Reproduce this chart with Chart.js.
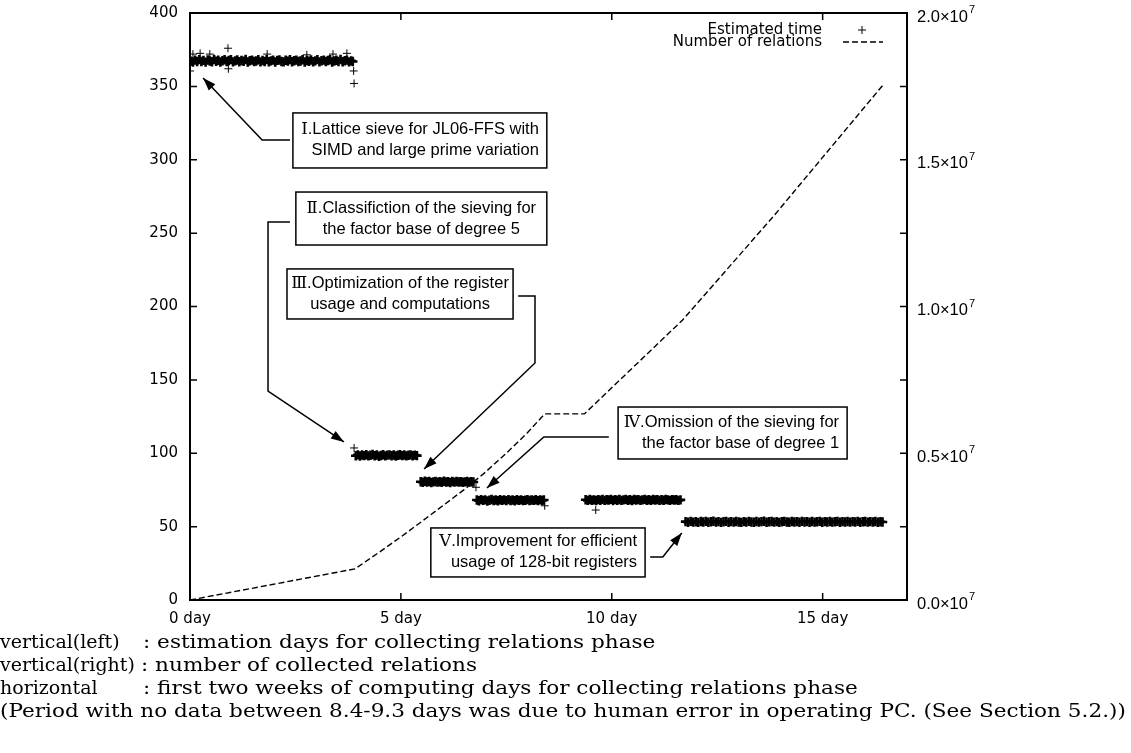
<!DOCTYPE html>
<html>
<head>
<meta charset="utf-8">
<script src="https://cdn.jsdelivr.net/npm/chart.js@4.4.1/dist/chart.umd.min.js"></script>
<style>
  body { margin: 0; background: #fff; }
  #wrap { position: relative; width: 1131px; height: 753px; }
  .row { position: absolute; left: 0; white-space: nowrap; font-family: "DejaVu Serif", serif; font-size: 19px; line-height: 23px; color: #000; }
  .lab { display: inline-block; width: 143px; }
  .txt { display: inline-block; transform: scaleX(1.135); transform-origin: left center; }
</style>
</head>
<body>
<div id="wrap">
  <canvas id="chart" width="1131" height="753"></canvas>
  <div class="row" style="top:630px"><span class="lab">vertical(left)</span><span class="txt">: estimation days for collecting relations phase</span></div>
  <div class="row" style="top:653px"><span>vertical(right)</span><span class="txt" style="margin-left:6px">: number of collected relations</span></div>
  <div class="row" style="top:676px"><span class="lab">horizontal</span><span class="txt">: first two weeks of computing days for collecting relations phase</span></div>
  <div class="row" style="top:699px"><span class="txt">(Period with no data between 8.4-9.3 days was due to human error in operating PC. (See Section 5.2.))</span></div>
</div>
<script>
// estimated time (days), one list per sieving phase
const phase1 = [
  [0.02,367.2],[0.07,366.6],[0.12,367.9],[0.17,366.9],[0.22,368.2],[0.27,367.0],[0.32,367.7],[0.37,366.5],[0.42,368.0],[0.47,367.3],
  [0.52,366.8],[0.57,368.3],[0.62,367.1],[0.67,367.8],[0.72,366.6],[0.77,367.5],[0.82,368.1],[0.87,366.9],[0.92,367.6],[0.97,368.2],
  [1.02,366.7],[1.07,367.4],[1.12,368.0],[1.17,366.8],[1.22,367.6],[1.27,367.1],[1.32,368.3],[1.37,366.6],[1.42,367.5],[1.47,367.9],
  [1.52,366.9],[1.57,367.3],[1.62,368.1],[1.67,366.7],[1.72,367.6],[1.77,367.0],[1.82,368.2],[1.87,366.8],[1.92,367.4],[1.97,367.9],
  [2.02,366.6],[2.07,367.7],[2.12,368.0],[2.17,367.0],[2.22,366.7],[2.27,367.8],[2.32,367.2],[2.37,368.2],[2.42,366.8],[2.47,367.5],
  [2.52,367.9],[2.57,366.9],[2.62,367.3],[2.67,368.1],[2.72,366.6],[2.77,367.6],[2.82,367.1],[2.87,368.0],[2.92,366.8],[2.97,367.4],
  [3.02,368.2],[3.07,366.7],[3.12,367.5],[3.17,367.9],[3.22,366.9],[3.27,367.6],[3.32,368.1],[3.37,366.6],[3.42,367.3],[3.47,367.8],
  [3.52,367.0],[3.57,368.3],[3.62,366.8],[3.67,367.5],[3.72,367.9],[3.77,366.7],[3.82,367.4],[3.86,367.0]
];
const phase2 = [
  [3.93,98.3],[3.98,98.9],[4.03,98.1],[4.08,98.8],[4.13,98.4],[4.18,99.0],[4.23,98.2],[4.28,98.6],[4.33,99.1],[4.38,98.3],
  [4.43,98.8],[4.48,98.0],[4.53,98.5],[4.58,99.0],[4.63,98.2],[4.68,98.7],[4.73,98.9],[4.78,98.3],[4.83,98.8],[4.88,98.1],
  [4.93,98.6],[4.98,99.0],[5.03,98.4],[5.08,98.8],[5.13,98.2],[5.18,98.6],[5.23,98.9],[5.28,98.3],[5.33,98.7],[5.38,98.4]
];
const phase3 = [
  [5.47,80.6],[5.52,80.2],[5.57,80.9],[5.62,80.4],[5.67,80.7],[5.72,80.1],[5.77,80.5],[5.82,80.8],[5.87,80.3],[5.92,80.6],
  [5.97,80.2],[6.02,80.9],[6.07,80.4],[6.12,80.6],[6.17,80.1],[6.22,80.7],[6.27,80.3],[6.32,80.8],[6.37,80.4],[6.42,80.6],
  [6.47,80.2],[6.52,80.5],[6.57,80.8],[6.62,80.3],[6.67,80.6],[6.72,80.4]
];
const phase4a = [
  [6.80,68.1],[6.85,67.6],[6.90,68.4],[6.95,67.9],[7.00,68.2],[7.05,67.5],[7.10,68.0],[7.15,68.5],[7.20,67.8],[7.25,68.1],
  [7.30,67.6],[7.35,68.3],[7.40,67.9],[7.45,68.2],[7.50,67.7],[7.55,68.4],[7.60,67.8],[7.65,68.1],[7.70,67.6],[7.75,68.3],
  [7.80,67.9],[7.85,68.2],[7.90,67.7],[7.95,68.0],[8.00,68.4],[8.05,67.8],[8.10,68.1],[8.15,67.9],[8.20,68.3],[8.25,67.7],
  [8.30,68.2],[8.35,67.9],[8.39,68.1]
];
const phase4b = [
  [9.38,68.3],[9.43,67.9],[9.48,68.5],[9.53,68.0],[9.58,68.2],[9.63,67.8],[9.68,68.4],[9.73,68.0],[9.78,68.6],[9.83,67.9],
  [9.88,68.3],[9.93,68.1],[9.98,68.6],[10.03,67.8],[10.08,68.4],[10.13,68.0],[10.18,68.5],[10.23,67.9],[10.28,68.2],[10.33,68.6],
  [10.38,68.0],[10.43,68.3],[10.48,67.8],[10.53,68.5],[10.58,68.1],[10.63,68.4],[10.68,67.9],[10.73,68.2],[10.78,68.6],[10.83,68.0],
  [10.88,68.3],[10.93,67.9],[10.98,68.5],[11.03,68.1],[11.08,68.4],[11.13,67.9],[11.18,68.3],[11.23,68.0],[11.28,68.5],[11.33,68.2],
  [11.38,67.9],[11.43,68.4],[11.48,68.1],[11.53,68.3],[11.58,67.9],[11.63,68.2]
];
const phase5 = [
  [11.75,53.4],[11.81,53.0],[11.87,53.6],[11.93,53.1],[11.99,53.3],[12.05,52.9],[12.11,53.5],[12.17,53.2],[12.23,53.6],[12.29,53.0],
  [12.35,53.3],[12.41,53.7],[12.47,53.1],[12.53,53.4],[12.59,52.9],[12.65,53.3],[12.71,53.6],[12.77,53.0],[12.83,53.4],[12.89,53.1],
  [12.95,53.5],[13.01,53.2],[13.07,52.9],[13.13,53.4],[13.19,53.1],[13.25,53.6],[13.31,53.2],[13.37,53.0],[13.43,53.5],[13.49,53.1],
  [13.55,53.4],[13.61,53.7],[13.67,53.0],[13.73,53.3],[13.79,53.5],[13.85,53.1],[13.91,53.4],[13.97,52.9],[14.03,53.3],[14.09,53.6],
  [14.15,53.2],[14.21,53.0],[14.27,53.5],[14.33,53.2],[14.39,53.4],[14.45,53.0],[14.51,53.6],[14.57,53.2],[14.63,53.4],[14.69,53.0],
  [14.75,53.5],[14.81,53.1],[14.87,53.3],[14.93,53.6],[14.99,53.0],[15.05,53.4],[15.11,53.2],[15.17,53.5],[15.23,53.1],[15.29,53.3],
  [15.35,53.6],[15.41,53.0],[15.47,53.4],[15.53,53.2],[15.59,53.5],[15.65,53.1],[15.71,53.4],[15.77,53.2],[15.83,53.6],[15.89,53.0],
  [15.95,53.3],[16.01,53.5],[16.07,53.1],[16.13,53.4],[16.19,53.2],[16.25,53.5],[16.31,53.0],[16.37,53.3],[16.42,53.2]
];
// stray readings drawn as single thin crosses
const outliers = [
  [0.00,360.5],[0.07,372.0],[0.24,372.5],[0.47,372.0],[0.90,376.0],[0.91,362.0],[1.83,372.0],[2.77,371.5],
  [3.39,372.0],[3.72,372.5],[3.88,360.5],[3.89,352.0],[3.89,103.6],[6.78,76.8],[8.41,64.2],[9.62,61.3]
];

// number of collected relations (right axis)
const relDays  = [0, 3.91, 4.50, 5.00, 5.50, 6.00, 6.50, 7.00, 7.50, 8.00, 8.41, 9.35, 11.68, 13.82, 16.45];
const relCount = [0, 1.06e6, 1.64e6, 2.15e6, 2.68e6, 3.22e6, 3.76e6, 4.35e6, 5.0e6, 5.7e6, 6.34e6, 6.34e6, 9.54e6, 13.05e6, 17.58e6];

const legendLabels = ['Estimated time', 'Number of relations'];
const relExponent = 7;

// annotation boxes, in data units (days / left axis)
const notes = [
  { lines: ['\u2160.Lattice sieve for JL06-FFS with', 'SIMD and large prime variation'], align: 'right',
    box: [2.44, 331.9, 8.46, 294.4], arrow: [[2.37, 313.5], [1.71, 313.5], [0.31, 355.7]] },
  { lines: ['\u2161.Classifiction of the sieving for', 'the factor base of degree 5'], align: 'center',
    box: [2.51, 278.0, 8.46, 241.9], arrow: [[2.37, 257.6], [1.85, 257.6], [1.85, 142.4], [3.65, 107.7]] },
  { lines: ['\u2162.Optimization of the register', 'usage and computations'], align: 'center',
    box: [2.30, 225.6, 7.66, 191.5], arrow: [[7.78, 207.2], [8.18, 207.2], [8.18, 161.5], [5.55, 89.3]] },
  { lines: ['\u2163.Omission of the sieving for', 'the factor base of degree 1'], align: 'right',
    box: [10.15, 131.5, 15.58, 96.1], arrow: [[9.93, 111.1], [8.39, 111.1], [7.04, 76.3]] },
  { lines: ['\u2164.Improvement for efficient', 'usage of 128-bit registers'], align: 'right',
    box: [5.71, 49.1, 10.79, 15.7], arrow: [[10.91, 29.3], [11.21, 29.3], [11.66, 45.7]] }
];

const toXY = arr => arr.map(p => ({ x: p[0], y: p[1] }));
const band = [].concat(phase1, phase2, phase3, phase4a, phase4b, phase5);

const AXIS_FONT = '"DejaVu Sans", sans-serif';
const NOTE_FONT = '"Liberation Sans", Arial, "DejaVu Serif", sans-serif';
Chart.defaults.font.family = AXIS_FONT;
Chart.defaults.font.size = 15;
Chart.defaults.color = '#000';

function drawArrow(ctx, pts) {
  ctx.beginPath();
  ctx.moveTo(pts[0][0], pts[0][1]);
  for (let i = 1; i < pts.length; i++) ctx.lineTo(pts[i][0], pts[i][1]);
  ctx.stroke();
  const [x1, y1] = pts[pts.length - 2];
  const [x2, y2] = pts[pts.length - 1];
  const ang = Math.atan2(y2 - y1, x2 - x1);
  const len = 13, w = 4.5;
  ctx.beginPath();
  ctx.moveTo(x2, y2);
  ctx.lineTo(x2 - len * Math.cos(ang) + w * Math.sin(ang), y2 - len * Math.sin(ang) - w * Math.cos(ang));
  ctx.lineTo(x2 - len * Math.cos(ang) - w * Math.sin(ang), y2 - len * Math.sin(ang) + w * Math.cos(ang));
  ctx.closePath();
  ctx.fill();
}

const gnuplotFrame = {
  id: 'gnuplotFrame',
  afterDraw(chart) {
    const { ctx, chartArea: a, scales } = chart;
    const sx = scales.x, sy = scales.y, sy2 = scales.y2;
    ctx.save();
    ctx.strokeStyle = '#000';
    ctx.fillStyle = '#000';

    // inward ticks, mirrored like gnuplot
    ctx.lineWidth = 1.5;
    ctx.beginPath();
    sy.ticks.forEach(t => {
      const py = sy.getPixelForValue(t.value);
      ctx.moveTo(a.left, py); ctx.lineTo(a.left + 7, py);
      ctx.moveTo(a.right, py); ctx.lineTo(a.right - 7, py);
    });
    sy2.ticks.forEach(t => {
      const py = sy2.getPixelForValue(t.value);
      ctx.moveTo(a.right, py); ctx.lineTo(a.right - 7, py);
    });
    sx.ticks.forEach(t => {
      const px = sx.getPixelForValue(t.value);
      ctx.moveTo(px, a.bottom); ctx.lineTo(px, a.bottom - 7);
      ctx.moveTo(px, a.top); ctx.lineTo(px, a.top + 7);
    });
    ctx.stroke();

    ctx.lineWidth = 2;
    ctx.strokeRect(a.left, a.top, a.right - a.left, a.bottom - a.top);

    // right axis labels with a raised exponent
    ctx.textAlign = 'left';
    ctx.textBaseline = 'middle';
    sy2.ticks.forEach(t => {
      const py = sy2.getPixelForValue(t.value) + 4;
      const mant = (t.value / Math.pow(10, relExponent)).toFixed(1) + '\u00d710';
      ctx.font = '16.5px ' + NOTE_FONT;
      ctx.fillText(mant, a.right + 10, py);
      const w = ctx.measureText(mant).width;
      ctx.font = '11px ' + NOTE_FONT;
      ctx.fillText(String(relExponent), a.right + 11 + w, py - 7);
    });

    // key
    ctx.font = '15px ' + AXIS_FONT;
    ctx.textAlign = 'right';
    const kx = a.right - 85;
    ctx.fillText(legendLabels[0], kx, a.top + 17);
    ctx.fillText(legendLabels[1], kx, a.top + 29);
    ctx.lineWidth = 1;
    ctx.beginPath();
    ctx.moveTo(kx + 36, a.top + 17); ctx.lineTo(kx + 44, a.top + 17);
    ctx.moveTo(kx + 40, a.top + 13); ctx.lineTo(kx + 40, a.top + 21);
    ctx.stroke();
    ctx.lineWidth = 1.4;
    ctx.setLineDash([6, 3]);
    ctx.beginPath();
    ctx.moveTo(kx + 21, a.top + 29); ctx.lineTo(kx + 61, a.top + 29);
    ctx.stroke();
    ctx.setLineDash([]);

    // annotations
    ctx.font = '16.5px ' + NOTE_FONT;
    notes.forEach(n => {
      const l = sx.getPixelForValue(n.box[0]), t = sy.getPixelForValue(n.box[1]);
      const r = sx.getPixelForValue(n.box[2]), b = sy.getPixelForValue(n.box[3]);
      ctx.fillStyle = '#fff';
      ctx.fillRect(l, t, r - l, b - t);
      ctx.fillStyle = '#000';
      ctx.lineWidth = 1.5;
      ctx.strokeRect(l, t, r - l, b - t);
      ctx.textAlign = n.align;
      const tx = n.align === 'right' ? r - 8 : (l + r) / 2;
      const cy = (t + b) / 2;
      n.lines.forEach((s, i) => ctx.fillText(s, tx, cy + (i - 0.5) * 21));
      const pts = n.arrow.map(p => [sx.getPixelForValue(p[0]), sy.getPixelForValue(p[1])]);
      drawArrow(ctx, pts);
    });
    ctx.restore();
  }
};

const noLabelPad = s => { s.paddingTop = 0; s.paddingBottom = 0; };

new Chart(document.getElementById('chart'), {
  data: {
    datasets: [
      {
        type: 'scatter',
        label: legendLabels[0],
        data: toXY(band),
        yAxisID: 'y',
        pointStyle: 'cross',
        pointRadius: 4.7,
        borderWidth: 2.6,
        borderColor: '#000',
        backgroundColor: '#000'
      },
      {
        type: 'scatter',
        label: legendLabels[0],
        data: toXY(outliers),
        yAxisID: 'y',
        pointStyle: 'cross',
        pointRadius: 4,
        borderWidth: 1,
        borderColor: '#000',
        backgroundColor: '#000'
      },
      {
        type: 'line',
        label: legendLabels[1],
        data: relDays.map((d, i) => ({ x: d, y: relCount[i] })),
        yAxisID: 'y2',
        borderColor: '#000',
        borderWidth: 1.4,
        borderDash: [6, 3],
        pointRadius: 0,
        tension: 0,
        fill: false
      }
    ]
  },
  options: {
    responsive: false,
    animation: false,
    layout: { padding: { top: 13, left: 0, right: 0, bottom: 0 } },
    plugins: { legend: { display: false }, tooltip: { enabled: false } },
    scales: {
      x: {
        type: 'linear', min: 0, max: 17,
        grid: { display: false, drawTicks: false }, border: { display: false },
        ticks: { stepSize: 5, includeBounds: false, padding: 10, maxRotation: 0, callback: v => v + ' day' },
        afterFit: s => { s.height = 153; s.paddingLeft = 0; s.paddingRight = 0; }
      },
      y: {
        type: 'linear', position: 'left', min: 0, max: 400,
        grid: { display: false, drawTicks: false }, border: { display: false },
        ticks: { stepSize: 50, padding: 12 },
        afterFit: s => { s.width = 190; noLabelPad(s); }
      },
      y2: {
        type: 'linear', position: 'right', min: 0, max: 2e7,
        grid: { display: false, drawTicks: false }, border: { display: false },
        ticks: { stepSize: 5e6, display: false },
        afterFit: s => { s.width = 224; noLabelPad(s); }
      }
    }
  },
  plugins: [gnuplotFrame]
});
</script>
</body>
</html>
